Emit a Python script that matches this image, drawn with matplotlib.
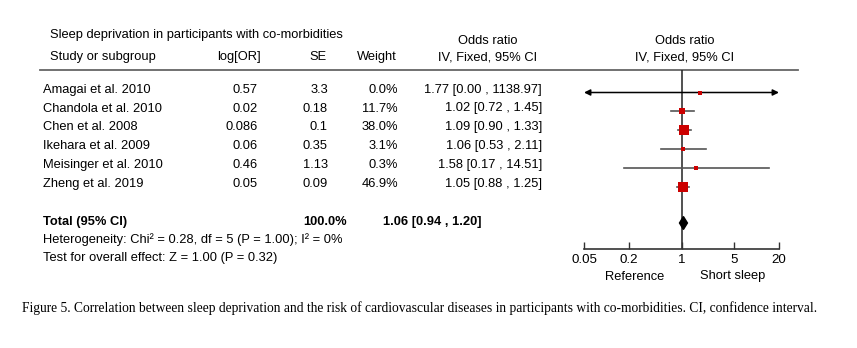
import matplotlib
matplotlib.use("Agg")
import matplotlib.pyplot as plt
import numpy as np

studies = ["Amagai et al. 2010", "Chandola et al. 2010", "Chen et al. 2008",
           "Ikehara et al. 2009", "Meisinger et al. 2010", "Zheng et al. 2019"]
log_or = ["0.57", "0.02", "0.086", "0.06", "0.46", "0.05"]
se = ["3.3", "0.18", "0.1", "0.35", "1.13", "0.09"]
weights = [0.0, 11.7, 38.0, 3.1, 0.3, 46.9]
odds = [1.77, 1.02, 1.09, 1.06, 1.58, 1.05]
ci_low = [0.00, 0.72, 0.90, 0.53, 0.17, 0.88]
ci_high = [1138.97, 1.45, 1.33, 2.11, 14.51, 1.25]
total_or, total_lo, total_hi = 1.06, 0.94, 1.20
xticks = [0.05, 0.2, 1, 5, 20]
xticklabels = ["0.05", "0.2", "1", "5", "20"]

W, H = 857, 348
plt.rcParams["font.family"] = ["Liberation Sans", "DejaVu Sans"]
FS = 9.3

fig = plt.figure(figsize=(W / 100, H / 100), dpi=100)
bg = fig.add_axes([0, 0, 1, 1])
bg.set_xlim(0, W)
bg.set_ylim(H, 0)
bg.axis("off")

# headers
bg.text(50, 35, "Sleep deprivation in participants with co-morbidities", fontsize=FS, va="center")
bg.text(50, 57, "Study or subgroup", fontsize=FS, va="center")
bg.text(261, 57, "log[OR]", fontsize=FS, va="center", ha="right")
bg.text(327, 57, "SE", fontsize=FS, va="center", ha="right")
bg.text(397, 57, "Weight", fontsize=FS, va="center", ha="right")
bg.text(488, 41, "Odds ratio", fontsize=FS, va="center", ha="center")
bg.text(488, 57, "IV, Fixed, 95% CI", fontsize=FS, va="center", ha="center")
bg.text(685, 41, "Odds ratio", fontsize=FS, va="center", ha="center")
bg.text(685, 57, "IV, Fixed, 95% CI", fontsize=FS, va="center", ha="center")
bg.plot([40, 798], [70, 70], color="#666666", lw=1.3)

row_y = [90, 108.5, 127, 146, 165, 184]
for i, y in enumerate(row_y):
    bg.text(43, y, studies[i], fontsize=FS, va="center")
    bg.text(258, y, log_or[i], fontsize=FS, va="center", ha="right")
    bg.text(328, y, se[i], fontsize=FS, va="center", ha="right")
    bg.text(398, y, f"{weights[i]:.1f}%", fontsize=FS, va="center", ha="right")
    bg.text(542, y, f"{odds[i]:.2f} [{ci_low[i]:.2f} , {ci_high[i]:.2f}]",
            fontsize=FS, va="center", ha="right")

bg.text(43, 222, "Total (95% CI)", fontsize=FS, va="center", fontweight="bold")
bg.text(347, 222, f"{sum(weights):.1f}%", fontsize=FS, va="center", ha="right", fontweight="bold")
bg.text(383, 222, f"{total_or:.2f} [{total_lo:.2f} , {total_hi:.2f}]", fontsize=FS,
        va="center", fontweight="bold")
bg.text(43, 240, "Heterogeneity: Chi² = 0.28, df = 5 (P = 1.00); I² = 0%", fontsize=FS, va="center")
bg.text(43, 258, "Test for overall effect: Z = 1.00 (P = 0.32)", fontsize=FS, va="center")

bg.text(22, 308, "Figure 5. Correlation between sleep deprivation and the risk of cardiovascular "
        "diseases in participants with co-morbidities. CI, confidence interval.",
        fontsize=9.75, va="center", family=["Liberation Serif", "DejaVu Serif"])

# forest panel
x0, x1, ytop, ybot = 584, 779, 70, 249
ax = fig.add_axes([x0 / W, 1 - ybot / H, (x1 - x0) / W, (ybot - ytop) / H])
ax.set_xscale("log")
ax.set_xlim(xticks[0], xticks[-1])
ax.set_ylim(ybot, ytop)
ax.patch.set_alpha(0)
for s in ["top", "right", "left"]:
    ax.spines[s].set_visible(False)
ax.spines["bottom"].set_color("#333333")
ax.spines["bottom"].set_linewidth(1.2)
ax.set_yticks([])
ax.set_xticks(xticks)
ax.set_xticklabels(xticklabels, fontsize=FS + 0.3)
ax.minorticks_off()
ax.tick_params(axis="x", direction="in", length=5, width=1, color="#333333", pad=3.5)
ax.axvline(1, color="#222222", lw=1.1, zorder=1)

wmax = max(weights)
for i, y in enumerate(row_y):
    yy = y + 2.5
    lo, hi = ci_low[i], ci_high[i]
    lo_c, hi_c = max(lo, xticks[0]), min(hi, xticks[-1])
    if lo < xticks[0] or hi > xticks[-1]:
        ax.annotate("", xy=(hi_c, yy), xytext=(lo_c, yy),
                    arrowprops=dict(arrowstyle="<|-|>", color="black", lw=1.1,
                                    mutation_scale=9, shrinkA=0, shrinkB=0))
    else:
        ax.plot([lo_c, hi_c], [yy, yy], color="#555555", lw=1.2, zorder=2)
    size = max(3.0, 10 * np.sqrt(weights[i] / wmax))
    ax.plot(odds[i], yy, marker="s", ms=size * 0.75, color="#cc0000", mec="#cc0000",
            mew=0, zorder=3, ls="none")

yd = 223
dx = [total_lo, total_or, total_hi, total_or]
dy = [yd, yd - 6.5, yd, yd + 6.5]
ax.fill(dx, dy, color="black", zorder=3)

bg.text(635, 276.5, "Reference", fontsize=FS, va="center", ha="center")
bg.text(733, 276.5, "Short sleep", fontsize=FS, va="center", ha="center")

fig.savefig("out.png", dpi=100)
